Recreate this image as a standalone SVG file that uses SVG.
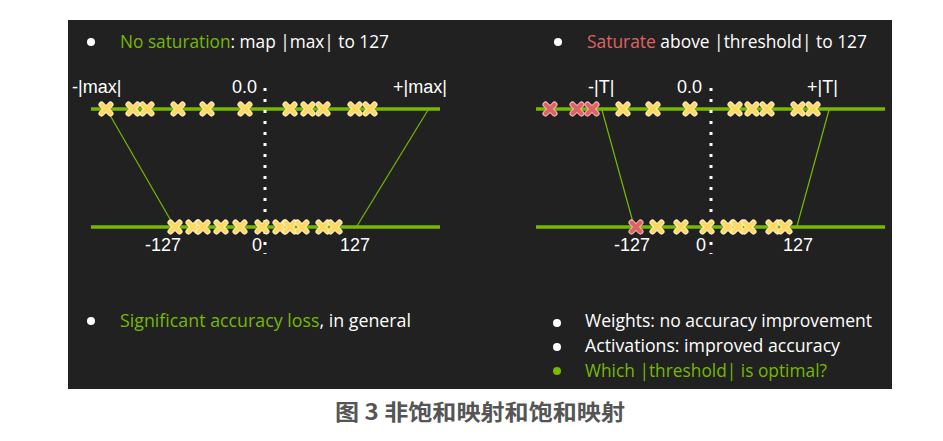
<svg xmlns="http://www.w3.org/2000/svg" width="943" height="441" viewBox="0 0 943 441">
<style>
.t{font-family:"Open Sans","DejaVu Sans",sans-serif;font-size:19px;fill:#ffffff}
.g{fill:#76b900}
.r{fill:#e06363}
.lab{font-family:"Liberation Sans",Arial,sans-serif;font-size:18px;fill:#ffffff}
.axis{stroke:#76b900;stroke-width:3.5}
.conn{stroke:#76b900;stroke-width:1.2}
.dot{stroke:#ffffff;stroke-width:3;stroke-dasharray:3 8}
.cap{font-family:"Noto Sans CJK SC","Noto Sans",sans-serif;font-size:22px;font-weight:bold;fill:#555555}
</style>
<defs>
<g id="xy"><path d="M-4.5,-4.5L4.5,4.5M-4.5,4.5L4.5,-4.5" stroke="#fff3cc" stroke-width="6" stroke-linecap="round"/><path d="M-4.5,-4.5L4.5,4.5M-4.5,4.5L4.5,-4.5" stroke="#ffd966" stroke-width="4" stroke-linecap="round"/></g>
<g id="xr"><path d="M-4.5,-4.5L4.5,4.5M-4.5,4.5L4.5,-4.5" stroke="#f3c0c0" stroke-width="6" stroke-linecap="round"/><path d="M-4.5,-4.5L4.5,4.5M-4.5,4.5L4.5,-4.5" stroke="#e06363" stroke-width="4" stroke-linecap="round"/></g>
</defs>
<rect width="943" height="441" fill="#ffffff"/>
<rect id="panel" x="68" y="20" width="824" height="369" fill="#212121"/>

<g id="left-title">
<circle cx="91" cy="42" r="4" fill="#ffffff"/>
<text class="t" x="120" y="48" textLength="269" lengthAdjust="spacingAndGlyphs"><tspan class="g">No saturation</tspan>: map |max| to 127</text>
</g>
<g id="right-title">
<circle cx="558" cy="42" r="4" fill="#ffffff"/>
<text class="t" x="587" y="48" textLength="280" lengthAdjust="spacingAndGlyphs"><tspan class="r">Saturate</tspan> above |threshold| to 127</text>
</g>

<g id="connectors">
<line class="axis" x1="91" y1="109" x2="440" y2="109"/>
<line class="axis" x1="91" y1="227" x2="440" y2="227"/>
<line class="conn" x1="107" y1="110" x2="174" y2="226"/>
<line class="conn" x1="428" y1="110" x2="357" y2="226"/>
<line class="dot" x1="265" y1="88" x2="265" y2="254"/>
<line class="axis" x1="536" y1="109" x2="885" y2="109"/>
<line class="axis" x1="536" y1="227" x2="885" y2="227"/>
<line class="conn" x1="602" y1="110" x2="634" y2="226"/>
<line class="conn" x1="829" y1="110" x2="797" y2="226"/>
<line class="dot" x1="711" y1="88" x2="711" y2="254"/>
</g>

<g id="left-labels">
<text class="lab" x="72" y="93">-|max|</text>
<text class="lab" x="232" y="93">0.0</text>
<text class="lab" x="393" y="93">+|max|</text>
<text class="lab" x="145" y="251">-127</text>
<text class="lab" x="252" y="251">0</text>
<text class="lab" x="340" y="251">127</text>
</g>
<g id="right-labels">
<text class="lab" x="588" y="93">-|T|</text>
<text class="lab" x="677" y="93">0.0</text>
<text class="lab" x="807" y="93">+|T|</text>
<text class="lab" x="614" y="251">-127</text>
<text class="lab" x="696" y="251">0</text>
<text class="lab" x="783" y="251">127</text>
</g>

<g id="left-top-values">
<use href="#xy" x="106" y="109"/><use href="#xy" x="133" y="109"/><use href="#xy" x="147" y="109"/>
<use href="#xy" x="178" y="109"/><use href="#xy" x="207" y="109"/><use href="#xy" x="245" y="109"/>
<use href="#xy" x="290" y="109"/><use href="#xy" x="308" y="109"/><use href="#xy" x="323" y="109"/>
<use href="#xy" x="355" y="109"/><use href="#xy" x="370" y="109"/>
</g>
<g id="left-bottom-values">
<use href="#xy" x="175" y="227"/><use href="#xy" x="193" y="227"/><use href="#xy" x="203" y="227"/>
<use href="#xy" x="221" y="227"/><use href="#xy" x="240" y="227"/><use href="#xy" x="262" y="227"/>
<use href="#xy" x="280" y="227"/><use href="#xy" x="290" y="227"/><use href="#xy" x="302" y="227"/>
<use href="#xy" x="323" y="227"/><use href="#xy" x="335" y="227"/>
</g>
<g id="right-top-values">
<use href="#xr" x="550" y="109"/><use href="#xr" x="577" y="109"/><use href="#xr" x="592" y="109"/>
<use href="#xy" x="623" y="109"/><use href="#xy" x="653" y="109"/><use href="#xy" x="690" y="109"/>
<use href="#xy" x="735" y="109"/><use href="#xy" x="752" y="109"/><use href="#xy" x="767" y="109"/>
<use href="#xy" x="798" y="109"/><use href="#xy" x="813" y="109"/>
</g>
<g id="right-bottom-values">
<use href="#xr" x="636" y="227"/><use href="#xy" x="657" y="227"/><use href="#xy" x="681" y="227"/>
<use href="#xy" x="707" y="227"/><use href="#xy" x="728" y="227"/><use href="#xy" x="738" y="227"/>
<use href="#xy" x="749" y="227"/><use href="#xy" x="773" y="227"/><use href="#xy" x="785" y="227"/>
</g>

<g id="left-note">
<circle cx="91" cy="321" r="4" fill="#ffffff"/>
<text class="t" x="120" y="327" textLength="291" lengthAdjust="spacingAndGlyphs"><tspan class="g">Significant accuracy loss</tspan>, in general</text>
</g>
<g id="right-notes">
<circle cx="557" cy="323" r="4" fill="#ffffff"/>
<text class="t" x="585" y="327" textLength="287" lengthAdjust="spacingAndGlyphs">Weights: no accuracy improvement</text>
<circle cx="557" cy="347" r="4" fill="#ffffff"/>
<text class="t" x="585" y="352" textLength="255" lengthAdjust="spacingAndGlyphs">Activations: improved accuracy</text>
<circle cx="557" cy="371" r="4" fill="#76b900"/>
<text class="t g" x="585" y="377" textLength="242" lengthAdjust="spacingAndGlyphs">Which |threshold| is optimal?</text>
</g>

<text class="cap" x="335" y="420" textLength="290" lengthAdjust="spacingAndGlyphs">图 3 非饱和映射和饱和映射</text>
</svg>
